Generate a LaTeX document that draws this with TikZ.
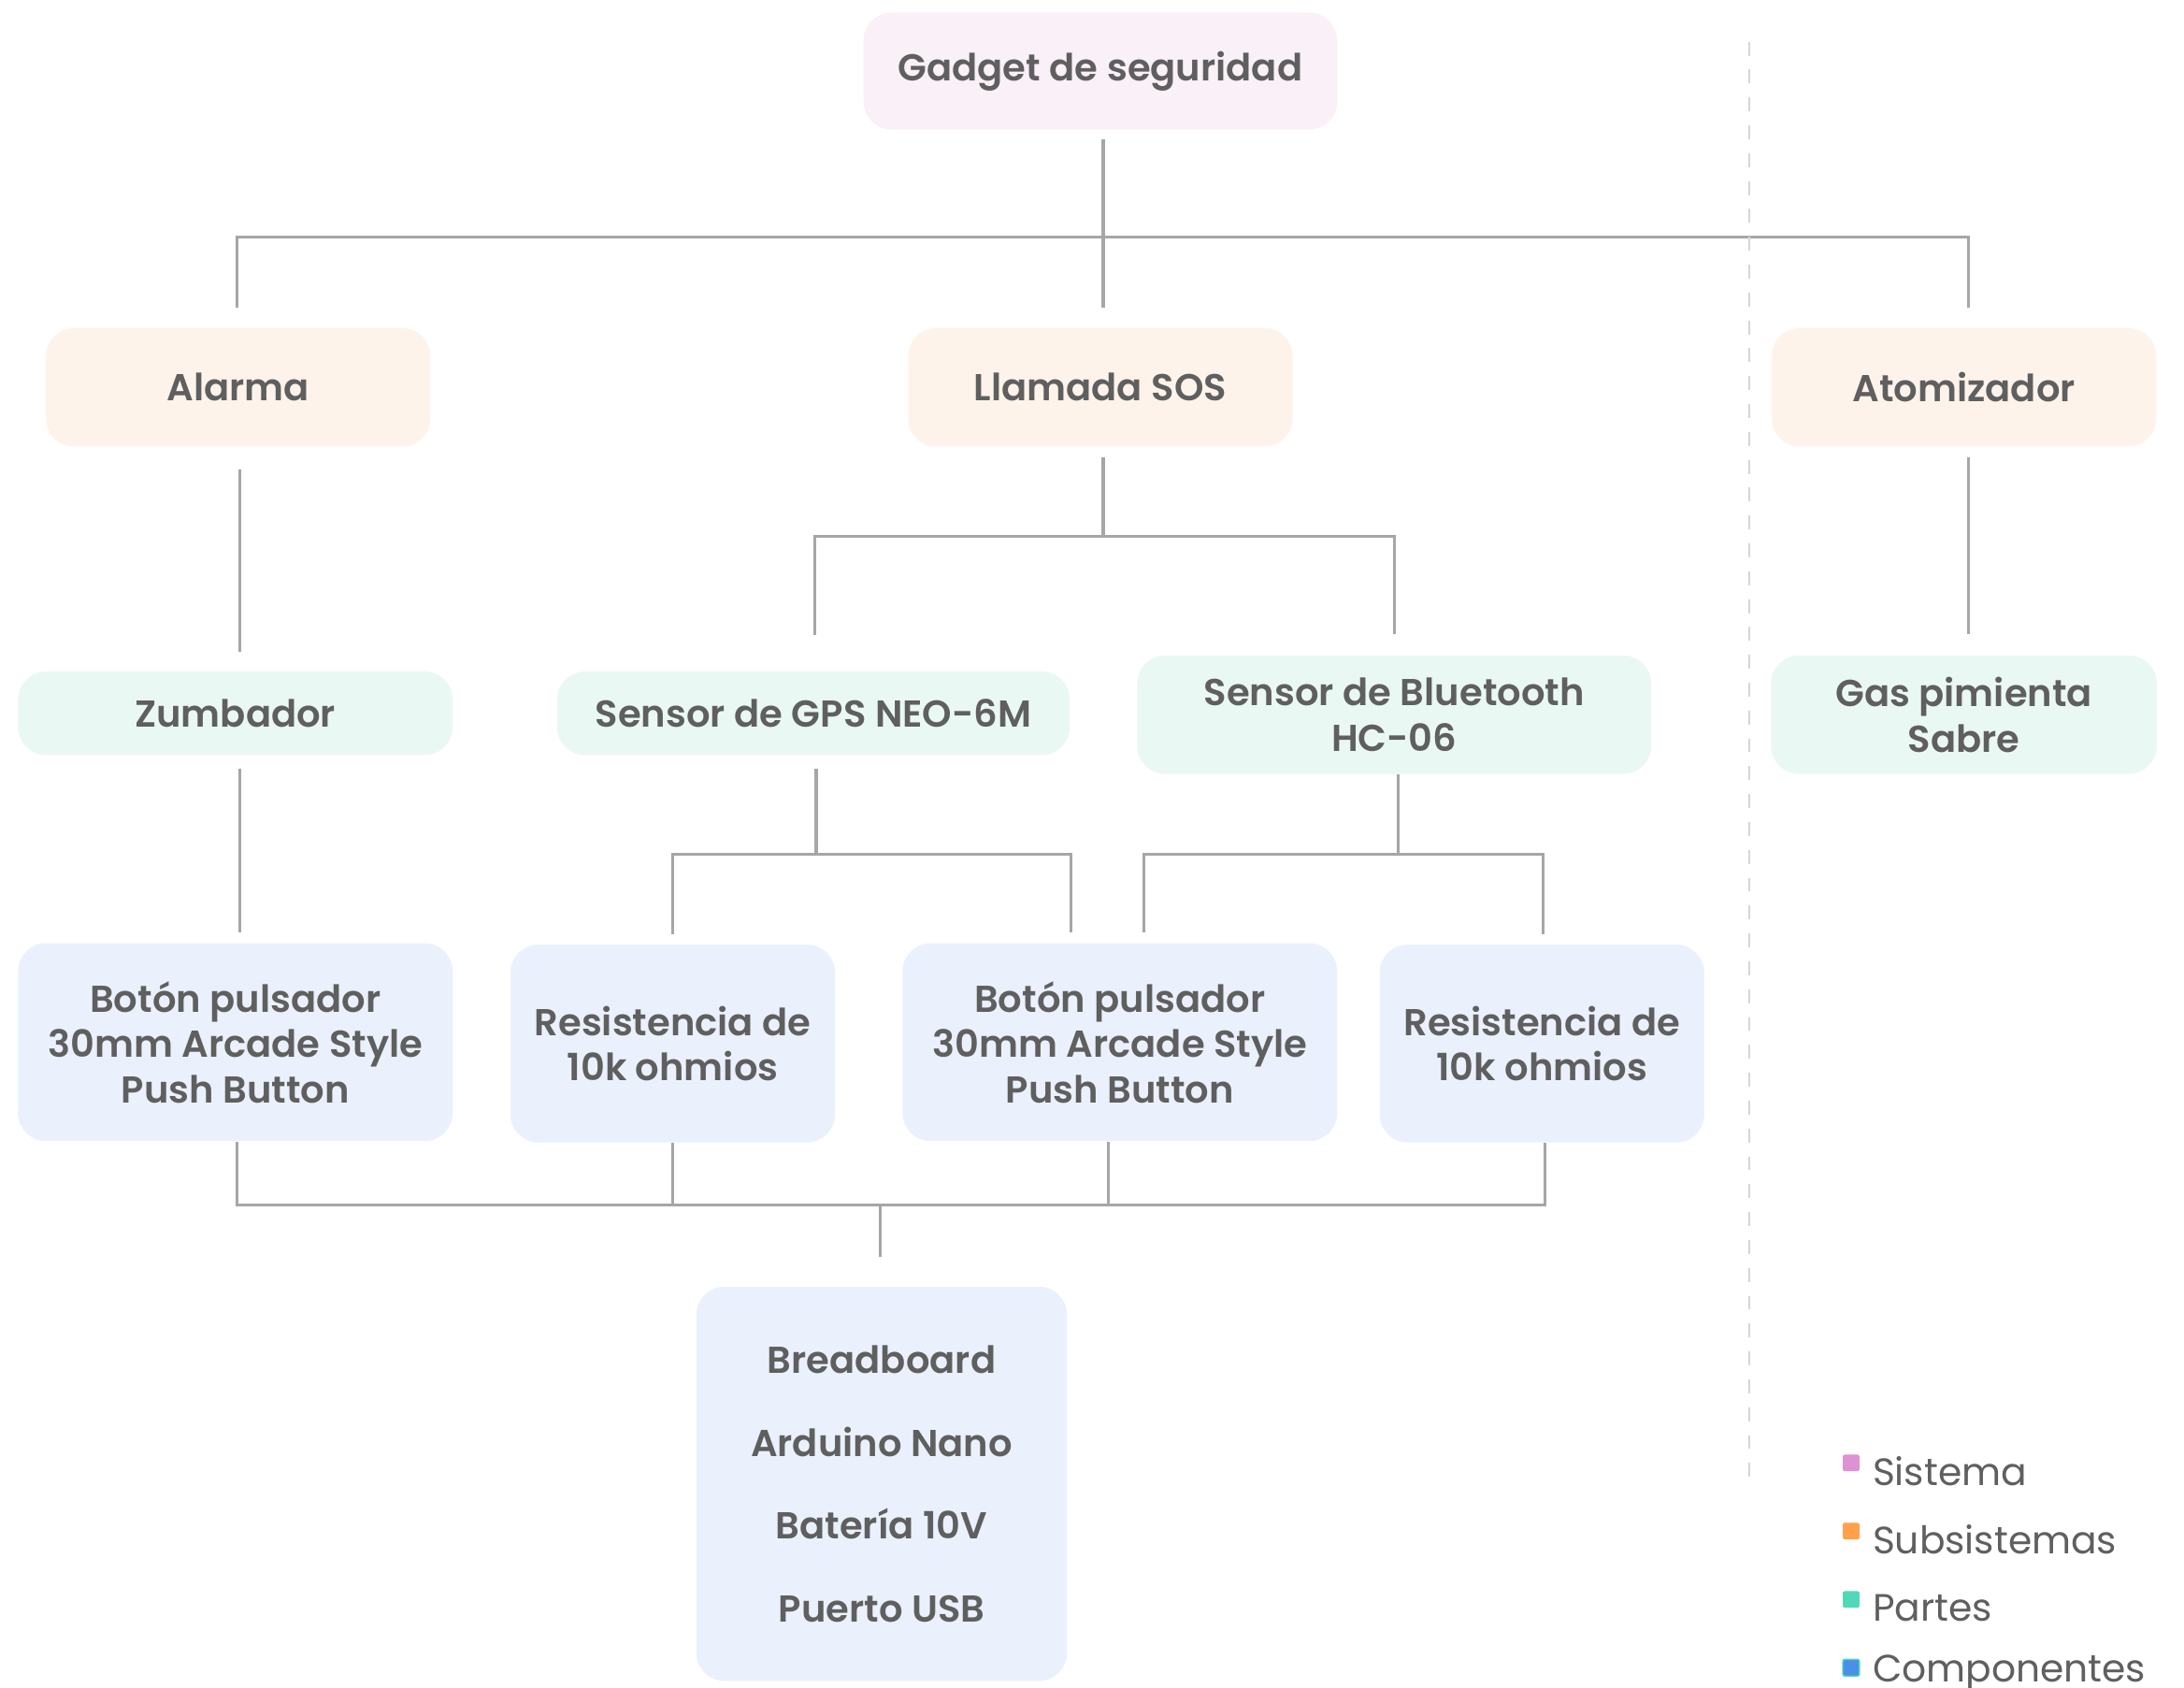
\documentclass[tikz,border=0pt]{standalone}
\usepackage{fontspec}
\setmainfont{Poppins}
\newfontfamily\nodefont{Poppins SemiBold}
\usetikzlibrary{calc}

\definecolor{txtgray}{HTML}{5F5F5F}
\definecolor{linegray}{HTML}{A6A6A6}
\definecolor{dashgray}{HTML}{D6D6D6}
\definecolor{sysfill}{HTML}{FAF0F7}
\definecolor{subfill}{HTML}{FEF3EA}
\definecolor{partfill}{HTML}{EAF8F4}
\definecolor{compfill}{HTML}{EAF1FC}
\definecolor{syskey}{HTML}{DE91D3}
\definecolor{subkey}{HTML}{FFA04A}
\definecolor{partkey}{HTML}{50D8B9}
\definecolor{compkey}{HTML}{4A90E8}

\newlength\px
\setlength\px{0.14898mm}

\tikzset{
  box/.style={rounded corners=20\px, inner sep=0pt, align=center, text=txtgray,
    font=\nodefont\fontsize{11.4}{13.8}\selectfont},
  sysbox/.style={box, fill=sysfill, minimum width=340\px, minimum height=84\px},
  subbox/.style={box, fill=subfill, minimum width=276\px, minimum height=85\px},
  partbox/.style={box, fill=partfill, minimum height=60\px},
  compbox/.style={box, fill=compfill, minimum height=142\px},
  conn/.style={linegray, line width=0.9pt},
  keybox/.style={rounded corners=1.5\px, minimum size=12\px, inner sep=0pt},
  keytext/.style={anchor=west, text=txtgray, inner sep=0pt,
    font=\fontsize{11.6}{14}\selectfont}
}

\begin{document}
\begin{tikzpicture}[x=\px, y=-\px]
\useasboundingbox (0,0) rectangle (1568,1211);

% niveles
\node[sysbox] (sys) at (790,51) {Gadget de seguridad};

\node[subbox] (alar) at (171,278) {Alarma};
\node[subbox] (llam) at (790,278) {Llamada SOS};
\node[subbox] (atom) at (1410,278) {Atomizador};

\node[partbox, minimum width=312\px] (zumb) at (169,512) {Zumbador};
\node[partbox, minimum width=368\px] (gps) at (584,512) {Sensor de GPS NEO-6M};
\node[partbox, minimum width=369\px, minimum height=85\px] (bt) at (1001,513) {Sensor de Bluetooth\\HC-06};
\node[partbox, minimum width=277\px, minimum height=85\px] (gas) at (1410,513) {Gas pimienta\\Sabre};

\node[compbox, minimum width=312\px] (bot1) at (169,748) {Botón pulsador\\30mm Arcade Style\\Push Button};
\node[compbox, minimum width=233\px] (res1) at (483,749) {Resistencia de\\10k ohmios};
\node[compbox, minimum width=312\px] (bot2) at (804,748) {Botón pulsador\\30mm Arcade Style\\Push Button};
\node[compbox, minimum width=233\px] (res2) at (1107,749) {Resistencia de\\10k ohmios};

\node[compbox, minimum width=266\px, minimum height=283\px,
  font=\nodefont\fontsize{11.4}{25.2}\selectfont] (base) at (633,1065)
  {Breadboard\\Arduino Nano\\Batería 10V\\Puerto USB};

% conectores
\coordinate (bus1) at (792,170);
\coordinate (bus2) at (792,385);
\coordinate (bus3) at (586,613);
\coordinate (bus4) at (1004,613);
\coordinate (bus5) at (632,865);

\draw[conn] (792,100) -- ([yshift=14\px]llam.north -| bus1);
\draw[conn] ([yshift=14\px]alar.north -| 170,0) |- (bus1) -| ([yshift=14\px]atom.north -| 1413,0);

\draw[conn] (172,337) -- ([yshift=14\px]zumb.north -| 172,0);
\draw[conn] (172,552) -- ([yshift=7\px]bot1.north -| 172,0);

\draw[conn] (792,328) -- (bus2);
\draw[conn] ([yshift=26\px]gps.north -| 585,0) |- (bus2) -| (1001,455);
\draw[conn] (1413,328) -- (1413,455);

\draw[conn] (586,552) -- (bus3);
\draw[conn] ([yshift=7\px]res1.north) |- (bus3) -| ([yshift=7\px]bot2.north -| 769,0);
\draw[conn] (bt.south -| bus4) -- (bus4);
\draw[conn] ([yshift=7\px]bot2.north -| 821,0) |- (bus4) -| ([yshift=7\px]res2.north -| 1108,0);

\draw[conn] (bot1.south -| 170,0) |- (bus5) -| (res2.south -| 1109,0);
\draw[conn] (res1.south) -- (res1.south |- bus5);
\draw[conn] (bot2.south -| 796,0) -- (bus5 -| 796,0);
\draw[conn] (bus5) -- ([yshift=21\px]base.north -| bus5);

% separador
\draw[dashgray, line width=0.5pt, dash pattern=on 10\px off 10\px] (1256,30) -- (1256,1065);

% leyenda
\node[keybox, fill=syskey] (k1) at (1329,1050) {};
\node[keybox, fill=subkey] (k2) at (1329,1099) {};
\node[keybox, fill=partkey] (k3) at (1329,1148) {};
\node[keybox, fill=compkey, draw=partkey, line width=0.4pt] (k4) at (1329,1197) {};
\node[keytext] (t1) at (1344,1056) {Sistema};
\node[keytext] (t2) at (1344,1105) {Subsistemas};
\node[keytext] (t3) at (1344,1154) {Partes};
\node[keytext] (t4) at (1344,1201) {Componentes};
\end{tikzpicture}
\end{document}
